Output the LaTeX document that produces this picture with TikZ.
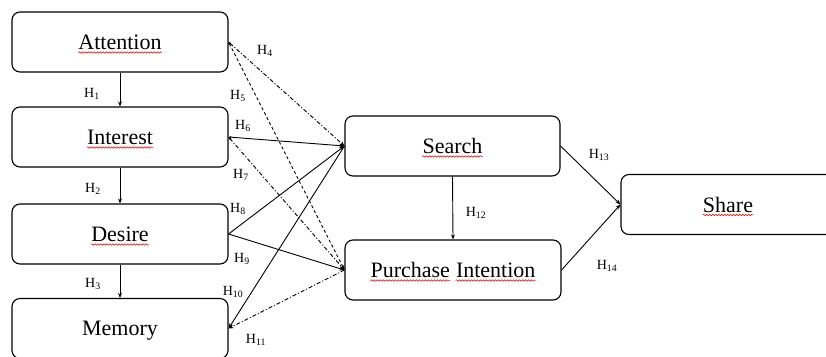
\documentclass[tikz,border=0pt]{standalone}
\usepackage{fontspec}
\setmainfont{Liberation Serif}
\usetikzlibrary{arrows.meta,decorations.pathmorphing}
\begin{document}
\begin{tikzpicture}[x=1pt,y=-1pt,
  box/.style={draw, line width=1.1pt, rounded corners=8pt, minimum width=216pt, minimum height=60pt, inner sep=0pt},
  txt/.style={inner sep=0pt, anchor=base, font=\fontsize{22}{26}\selectfont},
  hl/.style={inner sep=0pt, font=\fontsize{14}{16}\selectfont},
  squig/.style={draw=red!85!black, line width=0.5pt, decorate, decoration={snake, segment length=3pt, amplitude=0.8pt}},
  con/.style={line width=0.9pt},
  tip/.style={-{Stealth[length=5pt,width=4pt]}},
  dtip/.style={{Stealth[length=3pt,width=2.5pt]}-{Stealth[length=5pt,width=4pt]}},
  dashdot/.style={dash pattern=on 4pt off 2pt on 1pt off 2pt},
  dash5/.style={dash pattern=on 3pt off 2.5pt}]
\clip (0,0) rectangle (826,356);
% boxes
\node[box] (att) at (120,42) {};
\node[box] (int) at (120,137) {};
\node[box] (des) at (120,234) {};
\node[box] (mem) at (120,328.5) {};
\node[box, minimum width=215pt] (sea) at (452.5,146) {};
\node[box] (pi) at (453,270) {};
\node[box, minimum width=214pt] (sha) at (728,204.5) {};
% texts
\node[txt] (tatt) at (120,49.5) {Attention};
\node[txt] (tint) at (120,144.5) {Interest};
\node[txt] (tdes) at (120,241.5) {Desire};
\node[txt] (tmem) at (120,335.5) {Memory};
\node[txt] (tsea) at (452.5,153.5) {Search};
\node[txt, anchor=base east] (tpi1) at (450.2,277.5) {Purchase};
\node[txt, anchor=base west] (tpi2) at (455.8,277.5) {Intention};
\node[txt] (tsha) at (728,212) {Share};
% spell-check squiggles
\foreach \t in {tatt,tint,tdes,tsea,tpi1,tpi2,tsha}
  \draw[squig] ([yshift=-3pt]\t.base west) -- ([yshift=-3pt]\t.base east);
% vertical arrows
\draw[con,tip] (att.south) -- (int.north);
\draw[con,tip] (int.south) -- (des.north);
\draw[con,tip] (des.south) -- (mem.north);
\draw[con,tip] (sea.south) -- (pi.north);
% cross connectors
\draw[con,dtip,dashdot] (att.east) -- (sea.west);
\draw[con,dtip,dash5] (att.east) -- (pi.west);
\draw[con,dtip] (int.east) -- (sea.west);
\draw[con,dtip,dashdot] (int.east) -- (pi.west);
\draw[con,tip] (des.east) -- (sea.west);
\draw[con,tip] (des.east) -- (pi.west);
\draw[con,tip] (sea.west) -- (mem.east);
\draw[con,tip,dashdot] (pi.west) -- (mem.east);
\draw[con,tip] (sea.east) -- (sha.west);
\draw[con,tip] (pi.east) -- (sha.west);
% labels
\node[hl] (h1) at (92,94) {H\textsubscript{1}};
\node[hl] (h2) at (93,189) {H\textsubscript{2}};
\node[hl] (h3) at (93,284) {H\textsubscript{3}};
\node[hl] (h4) at (265,51) {H\textsubscript{4}};
\node[hl] (h5) at (238,96) {H\textsubscript{5}};
\node[hl] (h6) at (243,126) {H\textsubscript{6}};
\node[hl] (h7) at (241,175) {H\textsubscript{7}};
\node[hl] (h8) at (238,209) {H\textsubscript{8}};
\node[hl] (h9) at (242,259) {H\textsubscript{9}};
\node[hl] (h10) at (233,292) {H\textsubscript{10}};
\node[hl] (h11) at (256,340) {H\textsubscript{11}};
\node[hl] (h12) at (476,213) {H\textsubscript{12}};
\node[hl] (h13) at (599,155) {H\textsubscript{13}};
\node[hl] (h14) at (607,266) {H\textsubscript{14}};
\end{tikzpicture}
\end{document}
